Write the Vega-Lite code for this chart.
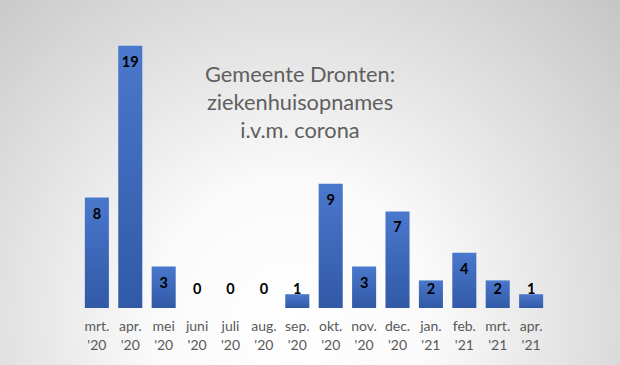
{
  "$schema": "https://vega.github.io/schema/vega-lite/v6.json",
  "width": 620,
  "height": 365,
  "autosize": "none",
  "padding": 0,
  "background": "#ffffff",
  "config": {"view": {"stroke": null}, "font": "Lato"},
  "title": {
    "text": ["Gemeente Dronten:", "ziekenhuisopnames", "i.v.m. corona"],
    "fontSize": 21.8,
    "fontWeight": "normal",
    "color": "#5f5f5f",
    "lineHeight": 28,
    "anchor": "middle",
    "frame": "group",
    "dx": -10,
    "baseline": "top",
    "offset": -143,
    "zindex": 1,
    "font": "Lato"
  },
  "datasets": {
    "bg": [{"k": 1}],
    "d": [
      {"m": "mrt. '20", "v": 8},
      {"m": "apr. '20", "v": 19},
      {"m": "mei '20", "v": 3},
      {"m": "juni '20", "v": 0},
      {"m": "juli '20", "v": 0},
      {"m": "aug. '20", "v": 0},
      {"m": "sep. '20", "v": 1},
      {"m": "okt. '20", "v": 9},
      {"m": "nov. '20", "v": 3},
      {"m": "dec. '20", "v": 7},
      {"m": "jan. '21", "v": 2},
      {"m": "feb. '21", "v": 4},
      {"m": "mrt. '21", "v": 2},
      {"m": "apr. '21", "v": 1}
    ]
  },
  "layer": [
    {
      "data": {"name": "bg"},
      "mark": {
        "type": "rect",
        "fill": {
          "gradient": "radial",
          "x1": 0.47, "y1": 0.72, "r1": 0,
          "x2": 0.47, "y2": 0.72, "r2": 0.75,
          "stops": [
            {"offset": 0, "color": "#ffffff"},
            {"offset": 0.3, "color": "#fafafa"},
            {"offset": 1, "color": "#c4c4c4"}
          ]
        }
      },
      "encoding": {}
    },
    {
      "data": {"name": "d"},
      "mark": {
        "type": "bar",
        "fill": {
          "gradient": "linear",
          "x1": 0, "y1": 0, "x2": 0, "y2": 1,
          "stops": [
            {"offset": 0, "color": "#4a78cc"},
            {"offset": 1, "color": "#3159a6"}
          ]
        }
      },
      "encoding": {
        "x": {
          "field": "m", "type": "nominal", "sort": null,
          "scale": {"range": [80, 548], "paddingInner": 0.28, "paddingOuter": 0.145},
          "axis": {
            "orient": "bottom",
            "offset": -57,
            "zindex": 1,
            "title": null,
            "domain": false,
            "ticks": false,
            "labelAngle": 0,
            "labelExpr": "split(datum.label, ' ')",
            "labelFontSize": 14,
            "labelColor": "#595959",
            "labelFont": "Lato",
            "labelLineHeight": 19,
            "labelPadding": 11,
            "labelBaseline": "top"
          }
        },
        "y": {
          "field": "v", "type": "quantitative",
          "scale": {"domain": [0, 20], "range": [308, 32], "nice": false},
          "axis": null
        }
      }
    },
    {
      "data": {"name": "d"},
      "transform": [{"calculate": "max(datum.v - 1.23, 1.3)", "as": "ly"}],
      "mark": {"type": "text", "fontWeight": "bold", "fontSize": 14.5, "color": "#000000", "baseline": "middle", "font": "Lato"},
      "encoding": {
        "x": {"field": "m", "type": "nominal", "sort": null},
        "y": {"field": "ly", "type": "quantitative"},
        "text": {"field": "v", "type": "quantitative"}
      }
    }
  ]
}
